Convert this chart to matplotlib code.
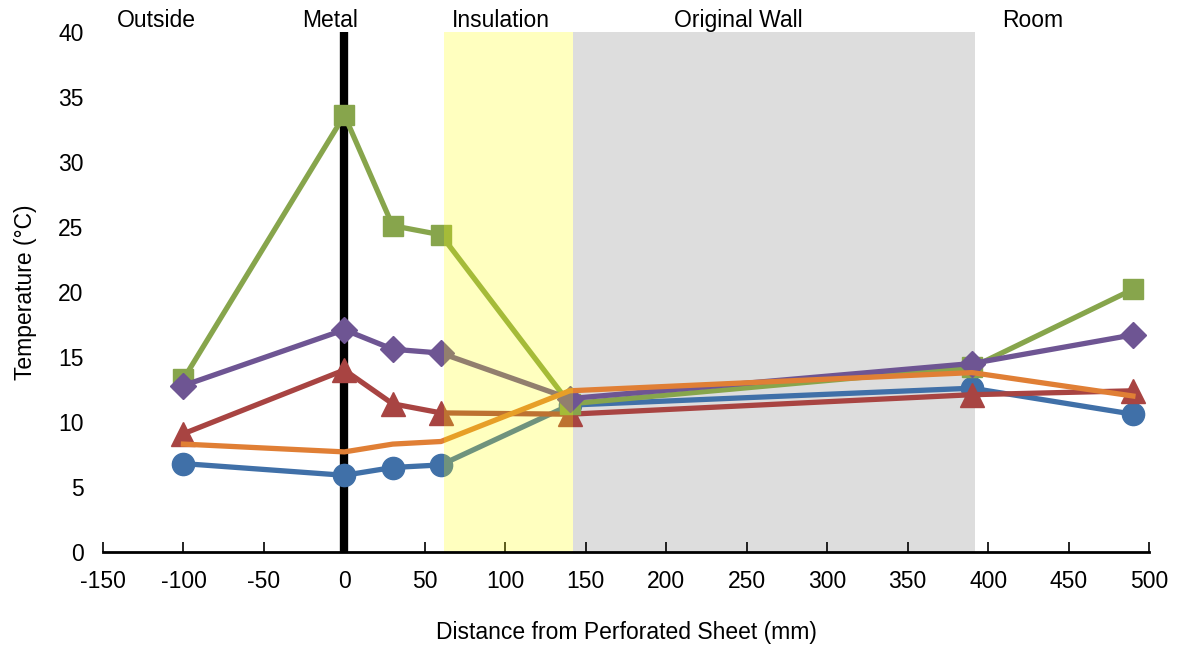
import matplotlib.pyplot as plt

# distance from perforated sheet (mm)
dist = [-100, 0, 30, 60, 140, 390, 490]

# temperatures (deg C) per sensor series
temp_blue = [6.8, 5.9, 6.5, 6.7, 11.3, 12.6, 10.6]
temp_red = [9.1, 14.0, 11.4, 10.7, 10.6, 12.1, 12.4]
temp_green = [13.3, 33.6, 25.1, 24.4, 11.4, 14.2, 20.2]
temp_purple = [12.8, 17.1, 15.6, 15.3, 11.8, 14.5, 16.7]
temp_orange = [8.3, 7.7, 8.3, 8.5, 12.4, 13.8, 12.0]

zones = ["Outside", "Metal", "Insulation", "Original Wall", "Room"]
zone_x = [-117, -9, 97, 245, 428]

plt.rcParams['font.family'] = ['Liberation Sans', 'DejaVu Sans']
plt.rcParams['axes.unicode_minus'] = False
fs = 16.5

fig = plt.figure(figsize=(11.77, 6.45), dpi=100)
ax = fig.add_axes([103/1177, 1 - 552/645, (1149-103)/1177, (552-32)/645])

# wall layers
ax.axvspan(142, 392, color='#dddddd', zorder=0, lw=0)
ax.axvspan(62, 142, color='#ffff00', alpha=0.25, zorder=5, lw=0)
ax.plot([0, 0], [0, 40], color='black', lw=6, zorder=1, solid_capstyle='butt')

lw = 3.8
ax.plot(dist, temp_blue, color='#4070a8', lw=lw, marker='o', ms=16, zorder=2)
ax.plot(dist, temp_red, color='#a84442', lw=lw, marker='^', ms=17, zorder=2)
ax.plot(dist, temp_green, color='#87a54c', lw=lw, marker='s', ms=15, zorder=2)
ax.plot(dist, temp_purple, color='#6e5593', lw=lw, marker='D', ms=13, zorder=2)
ax.plot(dist, temp_orange, color='#e07f35', lw=lw, zorder=2)

ax.set_xlim(-150, 500)
ax.set_ylim(0, 40)
ax.set_xticks(range(-150, 501, 50))
ax.set_yticks(range(0, 41, 5))
for s in ['top', 'right', 'left']:
    ax.spines[s].set_visible(False)
ax.spines['bottom'].set_linewidth(2)
ax.spines['bottom'].set_zorder(6)
ax.tick_params(axis='x', direction='in', length=7, width=1.2, labelsize=fs, pad=13)
ax.tick_params(axis='y', length=0, labelsize=fs, pad=14)

ax.set_xlabel("Distance from Perforated Sheet (mm)", fontsize=fs, labelpad=20)
ax.set_ylabel("Temperature (\u00b0C)", fontsize=fs, labelpad=15)

for name, x in zip(zones, zone_x):
    ax.text(x, 40.9, name, fontsize=fs, ha='center', va='center')

fig.savefig("out.png", dpi=100)
